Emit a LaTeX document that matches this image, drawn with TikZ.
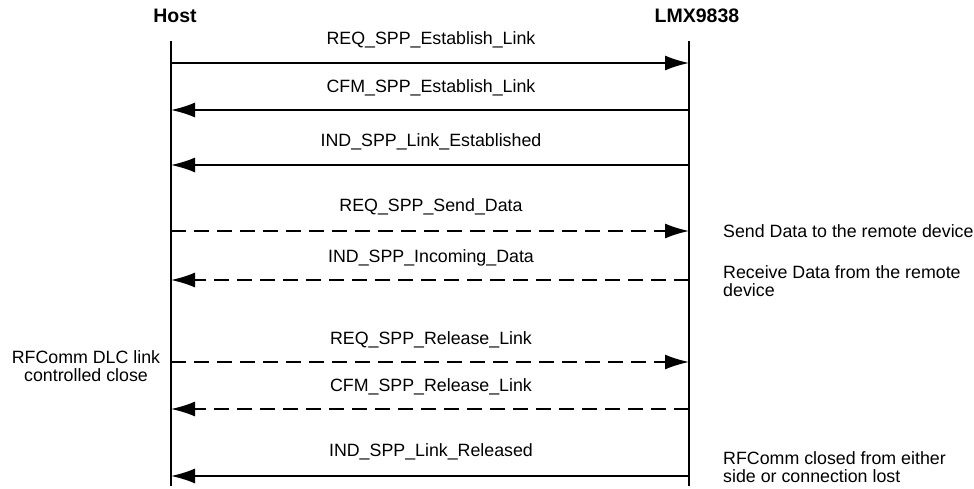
\documentclass[tikz,border=0pt]{standalone}
\usepackage{fontspec}
\setmainfont{Liberation Sans}
\usetikzlibrary{arrows.meta}
\tikzset{
  every picture/.style={line join=round, >={Latex[length=24pt,width=15pt]}},
  life/.style={line width=2pt},
  msg/.style={line width=1.6pt, ->},
  msgdash/.style={msg, dash pattern=on 15pt off 8pt},
  lbl/.style={font=\fontsize{17.8}{19}\selectfont, inner sep=0pt},
  note/.style={font=\fontsize{17.8}{18.5}\selectfont, align=left, inner sep=0pt, anchor=west},
  head/.style={font=\fontsize{19.5}{21}\selectfont\bfseries, inner sep=0pt},
}

\begin{document}
\begin{tikzpicture}[x=1pt, y=-1pt]
\useasboundingbox (0,0) rectangle (974,488);
% lifelines
\node[head] (host) at (175,16) {Host};
\node[head] (lmx) at (697,16) {LMX9838};
\coordinate (htop) at (171,41);
\coordinate (hbot) at (171,486);
\coordinate (ltop) at (689,41);
\coordinate (lbot) at (689,486);
\draw[life] (htop) -- (hbot);
\draw[life] (ltop) -- (lbot);
% message end points
\coordinate (h1) at (171,63);  \coordinate (l1) at (689,63);
\coordinate (h2) at (171,110); \coordinate (l2) at (689,110);
\coordinate (h3) at (171,165); \coordinate (l3) at (689,165);
\coordinate (h4) at (171,231); \coordinate (l4) at (689,231);
\coordinate (h5) at (171,280); \coordinate (l5) at (689,280);
\coordinate (h6) at (171,362); \coordinate (l6) at (689,362);
\coordinate (h7) at (171,409); \coordinate (l7) at (689,409);
\coordinate (h8) at (171,476); \coordinate (l8) at (689,476);
% messages
\draw[msg] (h1) -- (l1);
\draw[msg] (l2) -- (h2);
\draw[msg] (l3) -- (h3);
\draw[msgdash] (h4) -- (l4);
\draw[msgdash] (l5) -- (h5);
\draw[msgdash] (h6) -- (l6);
\draw[msgdash] (l7) -- (h7);
\draw[msg] (l8) -- (h8);
% labels
\node[lbl] (m1) at (431,40) {REQ\_SPP\_Establish\_Link};
\node[lbl] (m2) at (431,88) {CFM\_SPP\_Establish\_Link};
\node[lbl] (m3) at (431,142) {IND\_SPP\_Link\_Established};
\node[lbl] (m4) at (431,207) {REQ\_SPP\_Send\_Data};
\node[lbl] (m5) at (431,258) {IND\_SPP\_Incoming\_Data};
\node[lbl] (m6) at (431,340) {REQ\_SPP\_Release\_Link};
\node[lbl] (m7) at (431,387) {CFM\_SPP\_Release\_Link};
\node[lbl] (m8) at (431,452) {IND\_SPP\_Link\_Released};
% notes
\node[note] (sendnote) at (723,231) {Send Data to the remote device};
\node[note] (recvnote) at (723,281) {Receive Data from the remote\\device};
\node[note] (lostnote) at (723,467) {RFComm closed from either\\side or connection lost};
\node[note, anchor=center, align=center] (closenote) at (86,366) {RFComm DLC link\\controlled close};
\end{tikzpicture}
\end{document}
